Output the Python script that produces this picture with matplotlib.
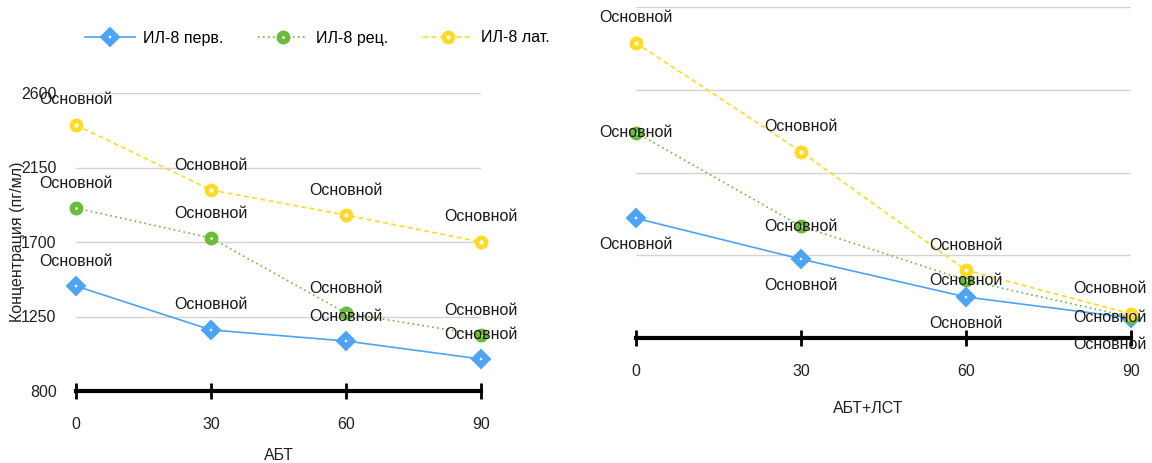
import matplotlib
matplotlib.use("Agg")
import matplotlib.pyplot as plt
from matplotlib.lines import Line2D

plt.rcParams['font.family'] = ['Liberation Sans', 'DejaVu Sans']
FS = 11.5
plt.rcParams['font.size'] = FS

# ---- data ----
times = [0, 30, 60, 90]
time_labels = ["0", "30", "60", "90"]
series_names = ["ИЛ-8 перв.", "ИЛ-8 рец.", "ИЛ-8 лат."]

abt_perv = [1434, 1169, 1102, 993]
abt_rec = [1905, 1724, 1271, 1138]
abt_lat = [2407, 2014, 1863, 1700]

lst_perv = [1451, 1229, 1023, 909]
lst_rec = [1917, 1408, 1115, 914]
lst_lat = [2405, 1814, 1169, 931]

y_ticks = [800, 1250, 1700, 2150, 2600]
point_label = "Основной"
y_title = "Концентрация (пг/мл)"
x_title_left = "АБТ"
x_title_right = "АБТ+ЛСТ"

# ---- styles ----
c_blue = '#4DA3F5'
c_green = '#6DBB3A'
c_yellow = '#FDDB27'

styles = [
    dict(color=c_blue, ls='-', lw=1.2, marker='D', ms=6.5, mfc='white', mec=c_blue, mew=4.5),
    dict(color=c_green, ls=(0, (1, 2)), lw=1.2, marker='o', ms=6, mfc='white', mec=c_green, mew=4),
    dict(color=c_yellow, ls=(0, (3, 2)), lw=1.2, marker='o', ms=6.5, mfc='white', mec=c_yellow, mew=3.5),
]

fig = plt.figure(figsize=(11.52, 4.63), dpi=100)
axL = fig.add_axes([76/1152, 1-391/463, 405/1152, 298/463])
axR = fig.add_axes([636/1152, 1-338/463, 495/1152, 331/463])


def setup(ax):
    ax.set_xlim(0, 90)
    ax.set_ylim(800, 2600)
    ax.set_yticks(y_ticks)
    ax.set_xticks(times)
    ax.set_xticklabels(time_labels)
    for s in ['left', 'right', 'top']:
        ax.spines[s].set_visible(False)
    ax.spines['bottom'].set_linewidth(3)
    ax.spines['bottom'].set_color('black')
    ax.tick_params(axis='x', direction='inout', length=11, width=2, color='black',
                   pad=13, labelsize=FS, labelcolor='#222222')
    ax.tick_params(axis='y', length=0, pad=14, labelsize=FS, labelcolor='#222222')
    for yv in y_ticks[1:]:
        ax.axhline(yv, color='#d4d4d4', lw=1, zorder=0)


def draw(ax, data, positions, last_shift=0):
    for vals, st, pos in zip(data, styles, positions):
        ax.plot(times, vals, clip_on=False, zorder=3, **st)
        for i, (x, y, p) in enumerate(zip(times, vals, pos)):
            off = {'a': 18, 'b': -19, 'c': 0}[p]
            dx = last_shift if i == len(times) - 1 else 0
            ax.annotate(point_label, (x, y), xytext=(dx, off), textcoords='offset points',
                        ha='center', va='center', fontsize=FS, color='#1a1a1a',
                        zorder=5, annotation_clip=False)


setup(axL)
draw(axL, [abt_perv, abt_rec, abt_lat], ['aaaa', 'aaaa', 'aaaa'])
axL.set_xlabel(x_title_left, fontsize=FS, color='#222222')
axL.xaxis.set_label_coords(0.5, -0.19)
axL.set_ylabel(y_title, fontsize=FS, color='#222222')
axL.yaxis.set_label_coords(-0.125, 0.5)

setup(axR)
axR.set_yticklabels([])
draw(axR, [lst_perv, lst_rec, lst_lat], ['bbbb', 'cccc', 'aaaa'], last_shift=-15)
axR.set_xlabel(x_title_right, fontsize=FS, color='#222222')
axR.xaxis.set_label_coords(0.47, -0.19)

handles = [Line2D([0], [0], **st) for st in styles]
fig.legend(handles, series_names, loc='center', bbox_to_anchor=(0.2756, 1-38/463),
           ncol=3, frameon=False, handlelength=3.1, handletextpad=0.5,
           columnspacing=2.2, fontsize=FS)

fig.savefig('out.png', dpi=100)
